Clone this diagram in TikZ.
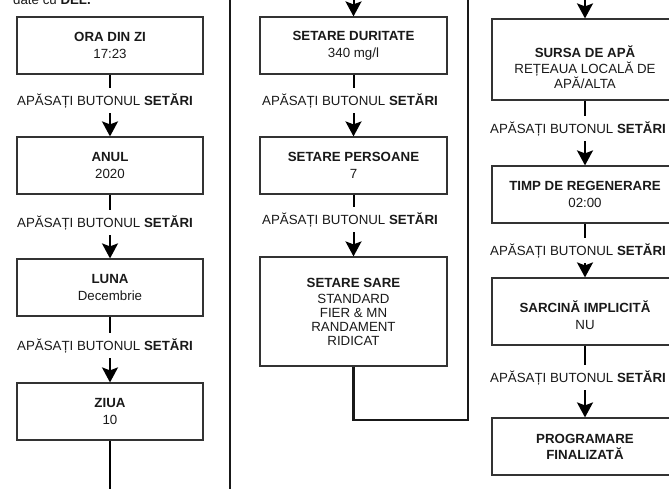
\documentclass[tikz,border=0pt]{standalone}
\usepackage{fontspec}
\setmainfont{Liberation Sans}
\usetikzlibrary{arrows.meta}
\begin{document}
\begin{tikzpicture}[x=1pt,y=-1pt,
  box/.style={draw=black!80, line width=1.2pt, minimum width=186pt, minimum height=57pt, align=center, inner sep=2pt, font=\fontsize{13.3}{14}\selectfont, text=black!90},
  lbl/.style={anchor=base, text height=10pt, text depth=1pt, inner ysep=7pt, inner xsep=0pt, font=\fontsize{13.3}{15}\selectfont, text=black!90},
  conn/.style={line width=2pt, black},
  arr/.style={conn, -{Stealth[length=15pt,width=16pt,inset=3pt]}},
  loopline/.style={line width=2.4pt, black!90}
]
\useasboundingbox (0,0) rectangle (669,488);
\clip (0,0) rectangle (669,488);

% top note (cut off)
\node[anchor=base west, inner sep=0pt, font=\fontsize{13.3}{15}\selectfont, text=black!90] (topnote) at (13,4.5) {date cu \textbf{DEL.}};

% left column
\node[box] (ora) at (110,45.5) {\textbf{ORA DIN ZI}\\[3pt]17:23};
\node[box] (anul) at (110,165.5) {\textbf{ANUL}\\[3pt]2020};
\node[box] (luna) at (110,287.5) {\textbf{LUNA}\\[3pt]Decembrie};
\node[box] (ziua) at (110,411.5) {\textbf{ZIUA}\\[3pt]10};
\node[lbl] (l1) at (105,105) {APĂSAȚI BUTONUL \textbf{SETĂRI}};
\node[lbl] (l2) at (105,227) {APĂSAȚI BUTONUL \textbf{SETĂRI}};
\node[lbl] (l3) at (105,350) {APĂSAȚI BUTONUL \textbf{SETĂRI}};
\coordinate (leftend) at (110,495);

\draw[conn] (ora.south) -- (ora.south |- l1.north);
\draw[arr] (ora.south |- l1.south) -- (anul.north);
\draw[conn] (anul.south) -- (anul.south |- l2.north);
\draw[arr] (anul.south |- l2.south) -- (luna.north);
\draw[conn] (luna.south) -- (luna.south |- l3.north);
\draw[arr] (luna.south |- l3.south) -- (ziua.north);
\draw[conn] (ziua.south) -- (leftend);

% separator / return line
\coordinate (vtop) at (230,-5);
\coordinate (vbot) at (230,495);
\draw[loopline] (vbot) -- (vtop);

% middle column
\node[box, minimum width=187pt] (dur) at (353.5,45.5) {\textbf{SETARE DURITATE}\\[3pt]340 mg/l};
\node[box, minimum width=187pt] (pers) at (353.5,165.5) {\textbf{SETARE PERSOANE}\\[3pt]7};
\node[box, minimum width=187pt, minimum height=109pt] (sare) at (353.5,311.5) {\textbf{SETARE SARE}\\[2pt]STANDARD\\FIER \& MN\\RANDAMENT\\RIDICAT};
\node[lbl] (m1) at (350,105) {APĂSAȚI BUTONUL \textbf{SETĂRI}};
\node[lbl] (m2) at (350,224) {APĂSAȚI BUTONUL \textbf{SETĂRI}};
\coordinate (mtop) at (353.5,-5);

\draw[arr] (mtop) -- (dur.north);
\draw[conn] (dur.south) -- (dur.south |- m1.north);
\draw[arr] (dur.south |- m1.south) -- (pers.north);
\draw[conn] (pers.south) -- (pers.south |- m2.north);
\draw[arr] (pers.south |- m2.south) -- (sare.north);

\coordinate (lp1) at (353.5,420);
\coordinate (lp2) at (468,420);
\coordinate (lptop) at (468,-5);
\draw[loopline] (sare.south) -- (lp1) -- (lp2) -- (lptop);

% right column
\node[box, minimum height=81pt] (sursa) at (585,59.5) {\rule{0pt}{27pt}\textbf{SURSA DE APĂ}\\[2pt]REȚEAUA LOCALĂ DE\\APĂ/ALTA};
\node[box] (timp) at (585,194.5) {\textbf{TIMP DE REGENERARE}\\[3pt]02:00};
\node[box, minimum height=67pt] (sarcina) at (585,311.5) {\rule{0pt}{19pt}\textbf{SARCINĂ IMPLICITĂ}\\[3pt]NU};
\node[box] (prog) at (585,446.5) {\textbf{PROGRAMARE}\\[2pt]\textbf{FINALIZATĂ}};
\node[lbl] (r1) at (578,133) {APĂSAȚI BUTONUL \textbf{SETĂRI}};
\node[lbl] (r2) at (578,255) {APĂSAȚI BUTONUL \textbf{SETĂRI}};
\node[lbl] (r3) at (578,382) {APĂSAȚI BUTONUL \textbf{SETĂRI}};
\coordinate (rtop) at (585,-5);

\draw[arr] (rtop) -- (sursa.north);
\draw[conn] (sursa.south) -- (sursa.south |- r1.north);
\draw[arr] (sursa.south |- r1.south) -- (timp.north);
\draw[conn] (timp.south) -- (timp.south |- r2.north);
\draw[arr] (timp.south |- r2.south) -- (sarcina.north);
\draw[conn] (sarcina.south) -- (sarcina.south |- r3.north);
\draw[arr] (sarcina.south |- r3.south) -- (prog.north);
\end{tikzpicture}
\end{document}
